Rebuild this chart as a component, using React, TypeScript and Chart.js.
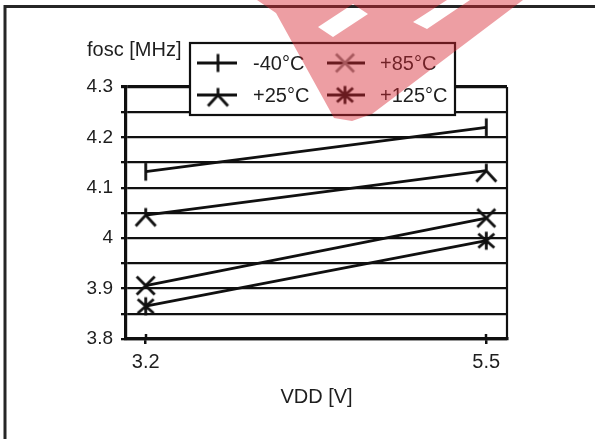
import React, { useEffect, useRef } from 'react';
import { Chart, registerables } from 'chart.js';

Chart.register(...registerables);

// ---- data ----
const vdd = [3.2, 5.5];
const xTickValues = [3.2, 5.5];
const seriesLabels = ['-40°C', '+25°C', '+85°C', '+125°C'];
const fMinus40 = [4.132, 4.22];
const fPlus25 = [4.046, 4.134];
const fPlus85 = [3.906, 4.04];
const fPlus125 = [3.865, 3.995];
const yMin = 3.8;
const yMax = 4.3;
const yStep = 0.05;
const xMin = 3.067;
const xMax = 5.64;
const yTitle = 'fosc [MHz]';
const xTitle = 'VDD [V]';

const FONT_FAMILY = '"Liberation Sans", Arial, Helvetica, sans-serif';
const FONT_SIZE = 20;
const TICK_FONT_SIZE = 19;
const INK = '#101010';
const TEXT = '#1e1e1e';

function makeMarker(kind: string, color: string): HTMLCanvasElement {
  const s = 27;
  const c = 13.5;
  const cv = document.createElement('canvas');
  cv.width = s;
  cv.height = s;
  const g = cv.getContext('2d')!;
  g.strokeStyle = color;
  g.lineWidth = 2.8;
  g.lineCap = 'butt';
  g.beginPath();
  if (kind === 'bar') {
    g.moveTo(c, c - 9);
    g.lineTo(c, c + 9);
  } else if (kind === 'lambda') {
    g.moveTo(c, c - 7);
    g.lineTo(c, c);
    g.moveTo(c - 10, c + 11);
    g.lineTo(c, c);
    g.lineTo(c + 10, c + 11);
  } else if (kind === 'x') {
    g.moveTo(c - 9, c - 9);
    g.lineTo(c + 9, c + 9);
    g.moveTo(c + 9, c - 9);
    g.lineTo(c - 9, c + 9);
  } else if (kind === 'star') {
    g.moveTo(c, c - 9);
    g.lineTo(c, c + 9);
    g.moveTo(c - 8, c - 7);
    g.lineTo(c + 8, c + 7);
    g.moveTo(c + 8, c - 7);
    g.lineTo(c - 8, c + 7);
  }
  g.stroke();
  return cv;
}

const markerKinds = ['bar', 'lambda', 'x', 'star'];

export default function App() {
  const ref = useRef<HTMLCanvasElement | null>(null);

  useEffect(() => {
    const canvas = ref.current;
    if (!canvas) return;
    const markers = markerKinds.map((k) => makeMarker(k, INK));
    const legendMarkers = markerKinds.map((k, i) => makeMarker(k, i === 2 ? '#808080' : INK));
    const seriesData = [fMinus40, fPlus25, fPlus85, fPlus125];

    const decor = {
      id: 'decor',
      beforeDraw(chart: any) {
        const { ctx } = chart;
        ctx.save();
        ctx.fillStyle = '#fff';
        ctx.fillRect(0, 0, chart.width, chart.height);
        ctx.restore();
      },
      afterDraw(chart: any) {
        const { ctx, chartArea: a, scales } = chart;
        ctx.save();
        // right border of plot
        ctx.strokeStyle = INK;
        ctx.lineWidth = 2.2;
        ctx.beginPath();
        ctx.moveTo(a.right, a.top);
        ctx.lineTo(a.right, a.bottom + 1);
        ctx.stroke();
        // x tick marks above the axis
        ctx.lineWidth = 2.5;
        xTickValues.forEach((v) => {
          const px = Math.round(scales.x.getPixelForValue(v));
          ctx.beginPath();
          ctx.moveTo(px, a.bottom - 5);
          ctx.lineTo(px, a.bottom);
          ctx.stroke();
        });
        // outer frame (top + left)
        ctx.strokeStyle = '#262626';
        ctx.lineWidth = 3;
        ctx.beginPath();
        ctx.moveTo(5, chart.height);
        ctx.lineTo(5, 6.5);
        ctx.lineTo(chart.width, 6.5);
        ctx.stroke();
        // y title
        ctx.font = `${FONT_SIZE}px ${FONT_FAMILY}`;
        ctx.fillStyle = TEXT;
        ctx.textAlign = 'left';
        ctx.textBaseline = 'middle';
        ctx.fillText(yTitle, a.left - 39, a.top - 37);

        // legend
        const x0 = a.left + 64;
        const y0 = a.top - 44;
        const w = 265;
        const h = 72;
        ctx.fillStyle = '#fff';
        ctx.fillRect(x0, y0, w, h);
        ctx.strokeStyle = INK;
        ctx.lineWidth = 2.2;
        ctx.strokeRect(x0, y0, w, h);
        const cols = [
          { line0: 7, line1: 47, mk: 28, tx: 63 },
          { line0: 137, line1: 175, mk: 155, tx: 190 },
        ];
        const order = [0, 2, 1, 3];
        order.forEach((si, k) => {
          const col = cols[k % 2];
          const ry = y0 + (k < 2 ? 20 : 52);
          ctx.strokeStyle = INK;
          ctx.lineWidth = 3;
          ctx.beginPath();
          ctx.moveTo(x0 + col.line0, ry);
          ctx.lineTo(x0 + col.line1, ry);
          ctx.stroke();
          const m = legendMarkers[si];
          ctx.drawImage(m, x0 + col.mk - m.width / 2, ry - m.height / 2);
          ctx.fillStyle = TEXT;
          ctx.font = `${FONT_SIZE}px ${FONT_FAMILY}`;
          ctx.textAlign = 'left';
          ctx.textBaseline = 'middle';
          ctx.fillText(seriesLabels[si], x0 + col.tx, ry + 1);
        });

        // watermark
        ctx.fillStyle = 'rgba(214, 40, 50, 0.45)';
        ctx.beginPath();
        ctx.moveTo(257, 0);
        ctx.lineTo(523, 0);
        ctx.lineTo(372, 114);
        ctx.lineTo(352, 121);
        ctx.lineTo(334, 118);
        ctx.lineTo(276, 13);
        ctx.closePath();
        // cut-outs (letters)
        ctx.moveTo(318, 27);
        ctx.lineTo(333, 37);
        ctx.lineTo(368, 14);
        ctx.lineTo(353, 4);
        ctx.closePath();
        ctx.moveTo(413, 22);
        ctx.lineTo(427, 29);
        ctx.lineTo(470, 0);
        ctx.lineTo(447, 0);
        ctx.closePath();
        ctx.fill('evenodd');
        ctx.restore();
      },
    };

    const font = { family: FONT_FAMILY, size: FONT_SIZE };
    const tickFont = { family: FONT_FAMILY, size: TICK_FONT_SIZE };

    const chart = new Chart(canvas, {
      type: 'line',
      data: {
        datasets: seriesData.map((arr, i) => ({
          label: seriesLabels[i],
          data: vdd.map((x, j) => ({ x, y: arr[j] })),
          borderColor: INK,
          backgroundColor: INK,
          borderWidth: 2.8,
          pointStyle: markers[i] as any,
          pointRadius: 10,
          fill: false,
          tension: 0,
        })),
      },
      options: {
        animation: false,
        responsive: false,
        events: [],
        layout: { padding: { top: 87, right: 88, left: 0, bottom: 0 } },
        plugins: {
          legend: { display: false },
          tooltip: { enabled: false },
        },
        scales: {
          x: {
            type: 'linear',
            min: xMin,
            max: xMax,
            afterBuildTicks: (s: any) => {
              s.ticks = xTickValues.map((v) => ({ value: v }));
            },
            afterFit: (s: any) => {
              s.height = 100;
            },
            ticks: {
              autoSkip: false,
              padding: 6,
              color: TEXT,
              font,
              maxRotation: 0,
              callback: (v: any) => String(v),
            },
            grid: {
              display: true,
              drawOnChartArea: false,
              drawTicks: true,
              tickLength: 5,
              color: INK,
              lineWidth: 2.5,
            },
            border: { display: true, color: INK, width: 3.2 },
            title: {
              display: true,
              text: xTitle,
              color: TEXT,
              font,
              padding: { top: 30, bottom: 30 },
            },
          },
          y: {
            type: 'linear',
            min: yMin,
            max: yMax,
            afterFit: (s: any) => {
              s.width = 126;
            },
            ticks: {
              stepSize: yStep,
              autoSkip: false,
              padding: 8,
              color: TEXT,
              font: tickFont,
              callback: (v: any) => {
                const n = Math.round(Number(v) * 100);
                return n % 10 === 0 ? String(n / 100) : '';
              },
            },
            grid: {
              color: INK,
              lineWidth: (c: any) => (c.tick && Math.abs(c.tick.value - yMax) < 1e-6 ? 3.2 : 2.3),
              drawTicks: true,
              tickLength: 5,
            },
            border: { display: true, color: INK, width: 3.2 },
          },
        },
      },
      plugins: [decor],
    });

    return () => chart.destroy();
  }, []);

  return (
    <div style={{ position: 'fixed', left: 0, top: 0, width: 595, height: 439, background: '#fff' }}>
      <canvas ref={ref} width={595} height={439} style={{ display: 'block', width: 595, height: 439 }} />
    </div>
  );
}
